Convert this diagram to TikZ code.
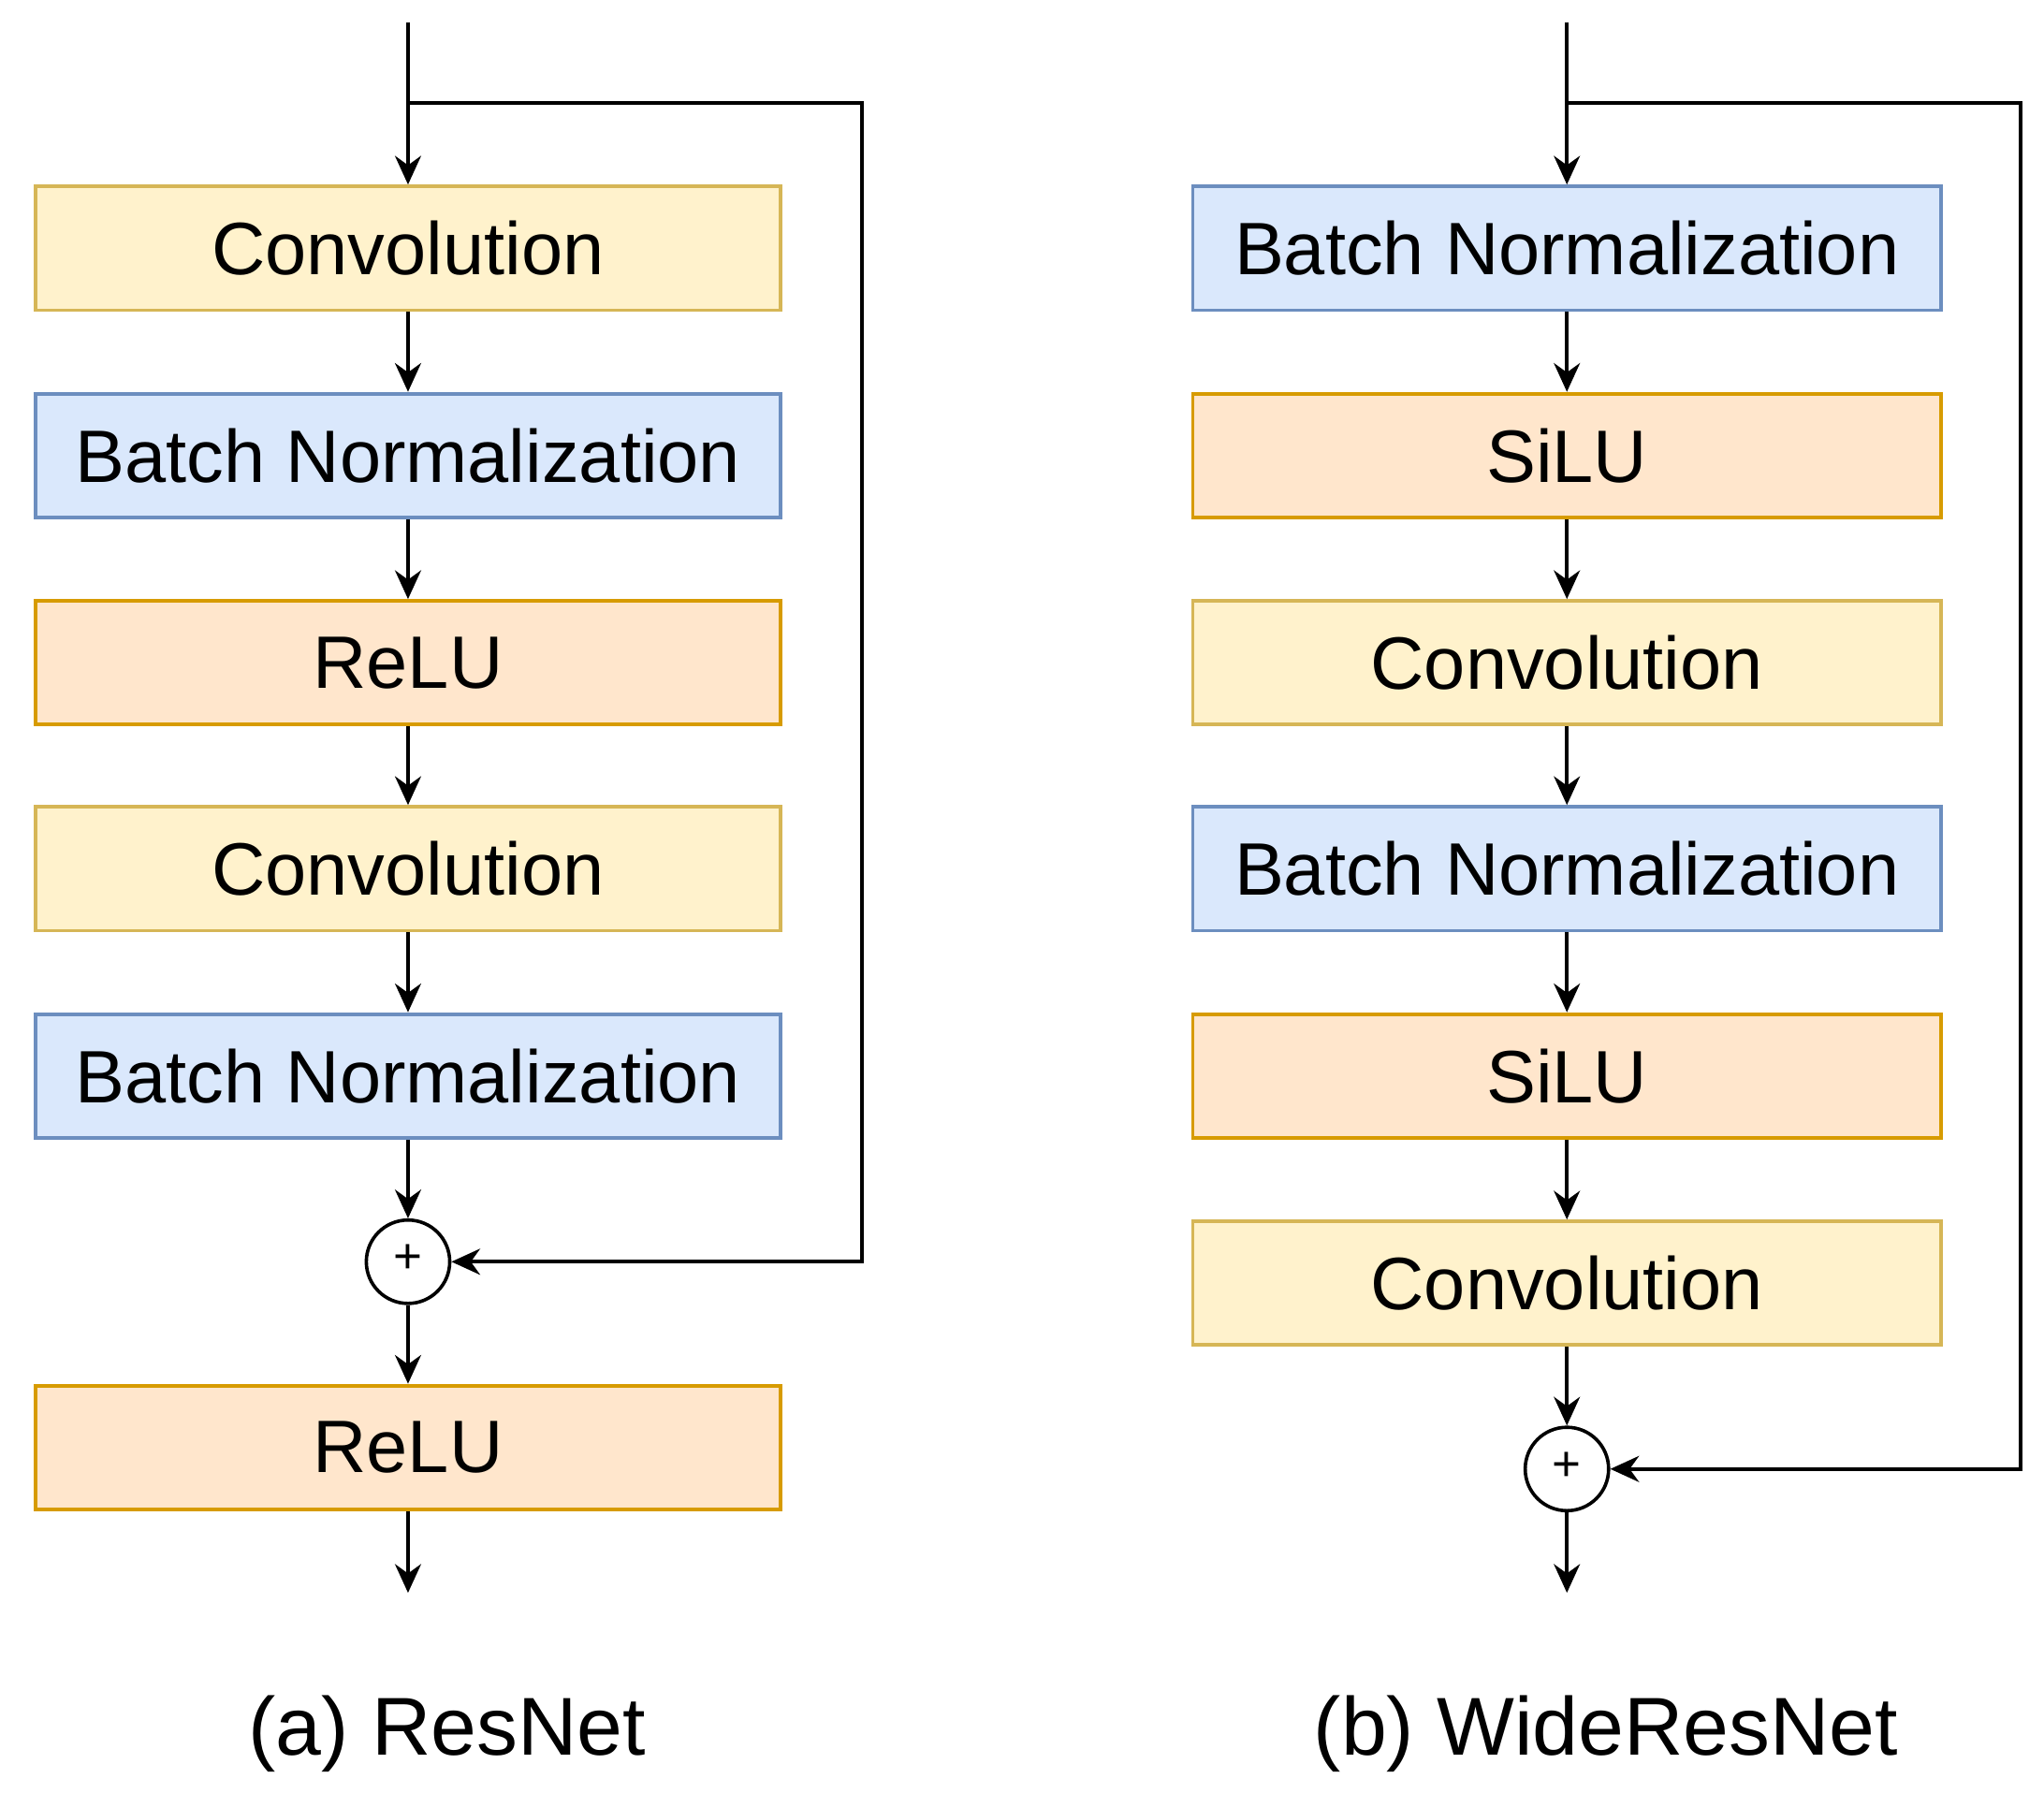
\documentclass[tikz,border=0pt]{standalone}
\usepackage{fontspec}
\setmainfont{Liberation Sans}
\usetikzlibrary{arrows.meta}
\begin{document}
\begin{tikzpicture}[x=0.5pt,y=-0.5pt,
  box/.style={draw,line width=1.4pt,minimum height=47.5pt,inner sep=0pt,font=\fontsize{28.5}{32}\selectfont},
  lb/.style={box,minimum width=285.5pt},
  rb/.style={box,minimum width=287pt},
  conv/.style={fill={rgb,255:red,255;green,242;blue,204},draw={rgb,255:red,214;green,182;blue,86}},
  bn/.style={fill={rgb,255:red,218;green,232;blue,252},draw={rgb,255:red,108;green,142;blue,191}},
  act/.style={fill={rgb,255:red,255;green,230;blue,204},draw={rgb,255:red,215;green,155;blue,0}},
  sum/.style={circle,draw,line width=1.3pt,minimum size=32pt,inner sep=0pt,fill=white,font=\fontsize{19}{19}\selectfont},
  ar/.style={line width=1.4pt,-{Stealth[length=11pt,width=10pt]}}]
\useasboundingbox (0,0) rectangle (1568,1375);
% left
\node[lb,conv] (l1) at (313,190.5) {Convolution};
\node[lb,bn] (l2) at (313,349.5) {Batch Normalization};
\node[lb,act] (l3) at (313,508.5) {ReLU};
\node[lb,conv] (l4) at (313,666.5) {Convolution};
\node[lb,bn] (l5) at (313,825.5) {Batch Normalization};
\node[sum] (ls) at (313,968) {\raisebox{2pt}{+}};
\node[lb,act] (l6) at (313,1110.5) {ReLU};
\coordinate (lin) at (313,17);
\coordinate (lsp) at (313,79);
\coordinate (lout) at (313,1222);
\draw[ar] (lin) -- (l1);
\draw[ar] (l1) -- (l2); \draw[ar] (l2) -- (l3); \draw[ar] (l3) -- (l4); \draw[ar] (l4) -- (l5);
\draw[ar] (l5) -- (ls); \draw[ar] (ls) -- (l6); \draw[ar] (l6) -- (lout);
\draw[ar] (lsp) -- (661,79) -- (661,968) -- (ls);
% right
\node[rb,bn] (r1) at (1202,190.5) {Batch Normalization};
\node[rb,act] (r2) at (1202,349.5) {SiLU};
\node[rb,conv] (r3) at (1202,508.5) {Convolution};
\node[rb,bn] (r4) at (1202,666.5) {Batch Normalization};
\node[rb,act] (r5) at (1202,825.5) {SiLU};
\node[rb,conv] (r6) at (1202,984.5) {Convolution};
\node[sum] (rs) at (1202,1127) {\raisebox{2pt}{+}};
\coordinate (rin) at (1202,17);
\coordinate (rsp) at (1202,79);
\coordinate (rout) at (1202,1222);
\draw[ar] (rin) -- (r1);
\draw[ar] (r1) -- (r2); \draw[ar] (r2) -- (r3); \draw[ar] (r3) -- (r4); \draw[ar] (r4) -- (r5); \draw[ar] (r5) -- (r6);
\draw[ar] (r6) -- (rs); \draw[ar] (rs) -- (rout);
\draw[ar] (rsp) -- (1550,79) -- (1550,1127) -- (rs);
% captions
\node[font=\fontsize{31.5}{36}\selectfont] (ca) at (343,1330) {(a) ResNet};
\node[font=\fontsize{31.5}{36}\selectfont] (cb) at (1232,1330) {(b) WideResNet};
\end{tikzpicture}
\end{document}
